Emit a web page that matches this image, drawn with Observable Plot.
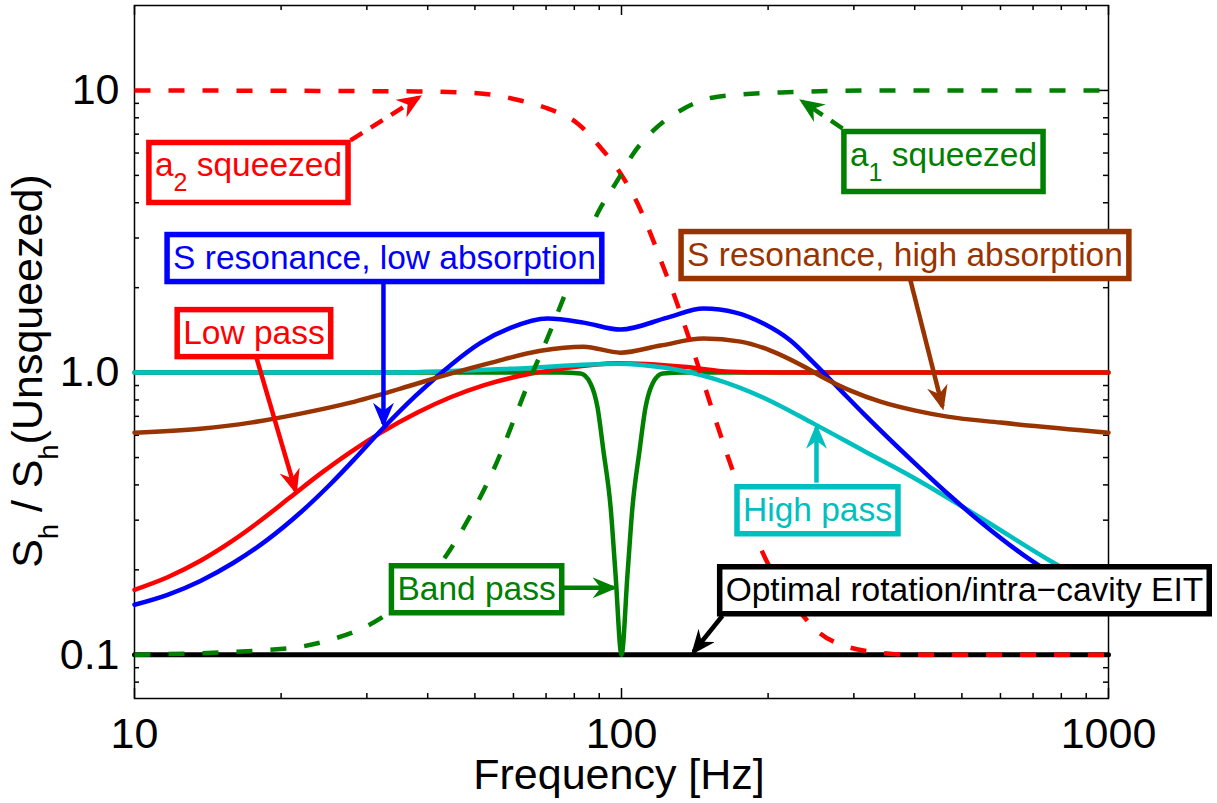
<!DOCTYPE html>
<html><head><meta charset="utf-8">
<script src="https://cdn.jsdelivr.net/npm/d3@7"></script>
<script src="https://cdn.jsdelivr.net/npm/@observablehq/plot@0.6"></script>
<style>
html,body{margin:0;padding:0;background:#fff;}
#chart svg{display:block;overflow:visible;}
</style></head><body><div id="chart"></div>
<script>
// ---------------- data (frequency in Hz, S_h / S_h(unsqueezed)) ----------------
const xMajor = [10, 100, 1000];
const xMinor = [20, 30, 40, 50, 60, 70, 80, 90, 200, 300, 400, 500, 600, 700, 800, 900];
const yMajor = [0.1, 1, 10];
const yMinor = [0.08, 0.09, 0.2, 0.3, 0.4, 0.5, 0.6, 0.7, 0.8, 0.9, 2, 3, 4, 5, 6, 7, 8, 9];
const xTickLabels = ["10", "100", "1000"];
const yTickLabels = ["0.1", "1.0", "10"];

const optimalF = [10, 1000];
const optimalV = [0.1, 0.1];

const bandF = [10, 74.9, 82.4, 86.4, 89.3, 91.8, 95.0, 97.2, 100, 102.9, 105.3, 108.9, 112.0, 115.8, 121.4, 134, 1000];
const bandV = [1, 1, 0.992, 0.914, 0.751, 0.529, 0.332, 0.194, 0.1, 0.194, 0.332, 0.529, 0.751, 0.914, 0.992, 1, 1];

const lowF = [10, 11.69, 13.66, 15.74, 18.15, 20.91, 24.09, 27.77, 31.99, 38.11, 44.57, 52.07, 62.0, 74.93, 98.1, 134.1, 167.4, 233.2, 1000];
const lowV = [0.170, 0.1883, 0.2154, 0.2507, 0.2991, 0.3622, 0.4384, 0.5230, 0.6118, 0.7227, 0.8180, 0.9015, 0.9750, 1.031, 1.080, 1.05, 1.008, 1.0, 1.0];

const highF = [10, 32.0, 60.0, 98.1, 122.0, 154.5, 195.7, 248, 314, 398, 546, 771, 1000];
const highV = [1, 1, 1.033, 1.076, 1.042, 0.952, 0.815, 0.6595, 0.529, 0.4243, 0.306, 0.212, 0.166];

const lowAbsF = [10, 11.69, 13.66, 15.97, 18.76, 21.92, 25.27, 28.43, 31.99, 37.76, 44.57, 51.34, 59.16, 70.47, 83.56, 99.54, 124.3, 147.4, 171.5, 195.7, 222.3, 247.9, 279.0, 314.0, 397.9, 467.0, 546.1, 691.5, 1000];
const lowAbsV = [0.1504, 0.1631, 0.1827, 0.2119, 0.2559, 0.3193, 0.4030, 0.4983, 0.6211, 0.8269, 1.063, 1.274, 1.440, 1.554, 1.504, 1.421, 1.567, 1.686, 1.632, 1.492, 1.299, 1.085, 0.8811, 0.7156, 0.4816, 0.3729, 0.2957, 0.2168, 0.1504];

const highAbsF = [10, 13.66, 17.31, 21.92, 27.77, 35.17, 44.57, 53.83, 68.2, 83.56, 99.5, 120.2, 147.4, 175.6, 202.3, 233.2, 262.4, 295.3, 340.2, 401.6, 467.0, 600.1, 1000];
const highAbsV = [0.6126, 0.6331, 0.6648, 0.7156, 0.7827, 0.8776, 0.9919, 1.083, 1.195, 1.236, 1.177, 1.247, 1.320, 1.288, 1.197, 1.067, 0.952, 0.8634, 0.789, 0.7332, 0.6982, 0.665, 0.6126];

const a2F = [10, 38.64, 51.34, 62.0, 70.47, 81.24, 90.55, 99.54, 107.9, 114.7, 122.0, 127.9, 136.6, 143.2, 154.5, 165.1, 175.6, 190.2, 212.1, 233.2, 256.3, 291.1, 340.2, 392.2, 1000];
const a2V = [10, 9.92, 9.76, 9.21, 8.635, 7.64, 6.28, 5.08, 3.975, 3.11, 2.357, 1.906, 1.375, 1.076, 0.7156, 0.5077, 0.3754, 0.2537, 0.1757, 0.1409, 0.1187, 0.1068, 0.1016, 0.1, 0.1];

const a1F = [10, 20.23, 25.63, 30.09, 33.08, 43.92, 48.29, 55.65, 61.14, 65.96, 69.15, 75.66, 82.39, 89.27, 98.1, 105.8, 116.3, 132.2, 154.5, 212.1, 340.2, 1000];
const a1V = [0.1, 0.105, 0.1139, 0.1267, 0.1398, 0.2281, 0.2987, 0.4875, 0.7332, 1.016, 1.227, 1.80, 2.642, 3.663, 4.797, 5.98, 7.215, 8.49, 9.445, 9.84, 10, 10];

// annotations (text centre / baseline in data units)
const annotText = ["a_2 squeezed", "a_1 squeezed", "S resonance, low absorption", "S resonance, high absorption",
                   "Low pass", "High pass", "Band pass", "Optimal rotation/intra\u2212cavity EIT"];
const annotF = [17.14, 458.3, 32.6, 382.0, 17.59, 252.6, 50.4, 506.1];
const annotV = [4.955, 5.42, 2.338, 2.396, 1.267, 0.2986, 0.1567, 0.1554];
const annotColor = ["#ff0000", "#008000", "#0000ff", "#993300", "#ff0000", "#00bfbf", "#008000", "#000000"];

// arrows: from box edge to curve
const arrowFromF = [27.77, 284.4, 32.45, 392.1, 17.80, 251.4, 76.0, 161.2];
const arrowFromV = [6.65, 7.33, 2.068, 2.120, 1.130, 0.4074, 0.1728, 0.1375];
const arrowToF   = [38.31, 235.3, 32.45, 456.1, 21.41, 251.4, 96.3, 140.6];
const arrowToV   = [9.445, 9.14, 0.659, 0.7576, 0.3816, 0.638, 0.1728, 0.1025];
const arrowDashed = [true, true, false, false, false, false, false, false];

// ---------------- layout ----------------
const W = 1217, H = 803;
const M = {top: 5, right: 109, bottom: 105, left: 134};
const plotW = W - M.left - M.right, plotH = H - M.top - M.bottom;
const FONT = "'Liberation Sans', Arial, Helvetica, sans-serif";

const S = (F, V) => F.map((f, i) => ({f, v: V[i]}));
const L = (F, V, color, extra = {}) => Plot.line(S(F, V), {
  x: "f", y: "v", stroke: color, strokeWidth: 4.5, curve: "monotone-x", strokeLinejoin: "round", ...extra
});
const dashed = {strokeDasharray: "16,18", strokeLinecap: "butt"};

const arrows = arrowFromF.map((_, i) => ({
  x1: arrowFromF[i], y1: arrowFromV[i], x2: arrowToF[i], y2: arrowToV[i],
  color: annotColor[i], dashed: arrowDashed[i]
}));
const annots = annotText.map((t, i) => ({t, f: annotF[i], v: annotV[i], color: annotColor[i]}));

const chart = Plot.plot({
  width: W, height: H,
  marginTop: M.top, marginRight: M.right, marginBottom: M.bottom, marginLeft: M.left,
  style: {fontFamily: FONT, background: "white", overflow: "visible", color: "black"},
  x: {type: "log", domain: [10, 1000], label: null},
  y: {type: "log", domain: [0.07, 20], label: null},
  marks: [
    Plot.frame({stroke: "black", strokeWidth: 1.5}),
    Plot.tickX(xMajor, {x: d => d, insetTop: plotH - 10, strokeWidth: 1.5}),
    Plot.tickX(xMajor, {x: d => d, insetBottom: plotH - 10, strokeWidth: 1.5}),
    Plot.tickX(xMinor, {x: d => d, insetTop: plotH - 5, strokeWidth: 1.5}),
    Plot.tickX(xMinor, {x: d => d, insetBottom: plotH - 5, strokeWidth: 1.5}),
    Plot.tickY(yMajor, {y: d => d, insetRight: plotW - 10, strokeWidth: 1.5}),
    Plot.tickY(yMajor, {y: d => d, insetLeft: plotW - 10, strokeWidth: 1.5}),
    Plot.tickY(yMinor, {y: d => d, insetRight: plotW - 5, strokeWidth: 1.5}),
    Plot.tickY(yMinor, {y: d => d, insetLeft: plotW - 5, strokeWidth: 1.5}),
    Plot.axisX({ticks: xMajor, tickSize: 0, tickPadding: 19, fontSize: 43, label: null,
                tickFormat: d => xTickLabels[xMajor.indexOf(d)]}),
    Plot.axisY({ticks: yMajor, tickSize: 0, tickPadding: 15, fontSize: 43, label: null,
                tickFormat: d => yTickLabels[yMajor.indexOf(d)]}),
    L(optimalF, optimalV, "#000000", {strokeWidth: 5}),
    L(bandF, bandV, "#008000"),
    L(lowF, lowV, "#ff0000"),
    L(highF, highV, "#00bfbf"),
    L(lowAbsF, lowAbsV, "#0000ff"),
    L(highAbsF, highAbsV, "#993300"),
    L(a2F, a2V, "#ff0000", dashed),
    L(a1F, a1V, "#008000", dashed),
    Plot.link(arrows.filter(d => !d.dashed), {x1: "x1", y1: "y1", x2: "x2", y2: "y2", stroke: "color", strokeWidth: 4.5, className: "annot-arrow"}),
    Plot.link(arrows.filter(d => d.dashed), {x1: "x1", y1: "y1", x2: "x2", y2: "y2", stroke: "color", strokeWidth: 4.5, strokeDasharray: "14,10", className: "annot-arrow"}),
    Plot.text(annots, {x: "f", y: "v", text: "t", fill: "color", fontSize: 33.5, textAnchor: "middle", lineAnchor: "bottom", className: "annot"})
  ]
});

document.getElementById("chart").append(chart);
const svg = d3.select(chart);

// arrow heads
const defs = svg.append("defs");
const made = new Set();
svg.selectAll("g.annot-arrow path").each(function () {
  const c = this.getAttribute("stroke");
  const id = "ah" + c.replace(/[^a-z0-9]/gi, "");
  if (!made.has(id)) {
    made.add(id);
    defs.append("marker").attr("id", id).attr("viewBox", "0 0 25 21")
      .attr("markerUnits", "userSpaceOnUse").attr("markerWidth", 25).attr("markerHeight", 21)
      .attr("refX", 21).attr("refY", 10.5).attr("orient", "auto")
      .append("path").attr("d", "M0,0 L25,10.5 L0,21 L8,10.5 Z").attr("fill", c).attr("stroke", "none");
  }
  this.setAttribute("marker-end", `url(#${id})`);
});

// subscripts and boxes for annotations
svg.selectAll("g.annot text").each(function () {
  const t = d3.select(this);
  const raw = t.text();
  if (raw.includes("_")) {
    t.text(null);
    const parts = raw.split(/_(\w)/);
    parts.forEach((p, i) => {
      if (i % 2 === 1) t.append("tspan").attr("dy", 15).attr("font-size", 25).text(p);
      else if (i > 0) t.append("tspan").attr("dy", -15).text(p);
      else t.append("tspan").text(p);
    });
  }
  const bb = this.getBBox();
  const c = this.getAttribute("fill");
  const padX = 6, padT = 4, padB = 6;
  const r = document.createElementNS("http://www.w3.org/2000/svg", "rect");
  r.setAttribute("x", bb.x - padX);
  r.setAttribute("y", bb.y - padT);
  r.setAttribute("width", bb.width + 2 * padX);
  r.setAttribute("height", bb.height + padT + padB);
  r.setAttribute("fill", "white");
  r.setAttribute("stroke", c);
  r.setAttribute("stroke-width", 5.5);
  const tr = this.getAttribute("transform");
  if (tr) r.setAttribute("transform", tr);
  this.parentNode.insertBefore(r, this);
});

// axis titles
svg.append("text").attr("x", 619).attr("y", 789).attr("text-anchor", "middle")
  .attr("font-size", 43).attr("font-family", FONT).attr("fill", "black").text("Frequency [Hz]");
const yl = svg.append("text").attr("transform", "translate(42,371) rotate(-90)")
  .attr("text-anchor", "middle").attr("font-size", 43).attr("font-family", FONT).attr("fill", "black");
yl.append("tspan").text("S");
yl.append("tspan").attr("dy", 16).attr("font-size", 27).text("h");
yl.append("tspan").attr("dy", -16).text(" / S");
yl.append("tspan").attr("dy", 16).attr("font-size", 27).text("h");
yl.append("tspan").attr("dy", -16).text("(Unsqueezed)");
</script>
</body></html>
